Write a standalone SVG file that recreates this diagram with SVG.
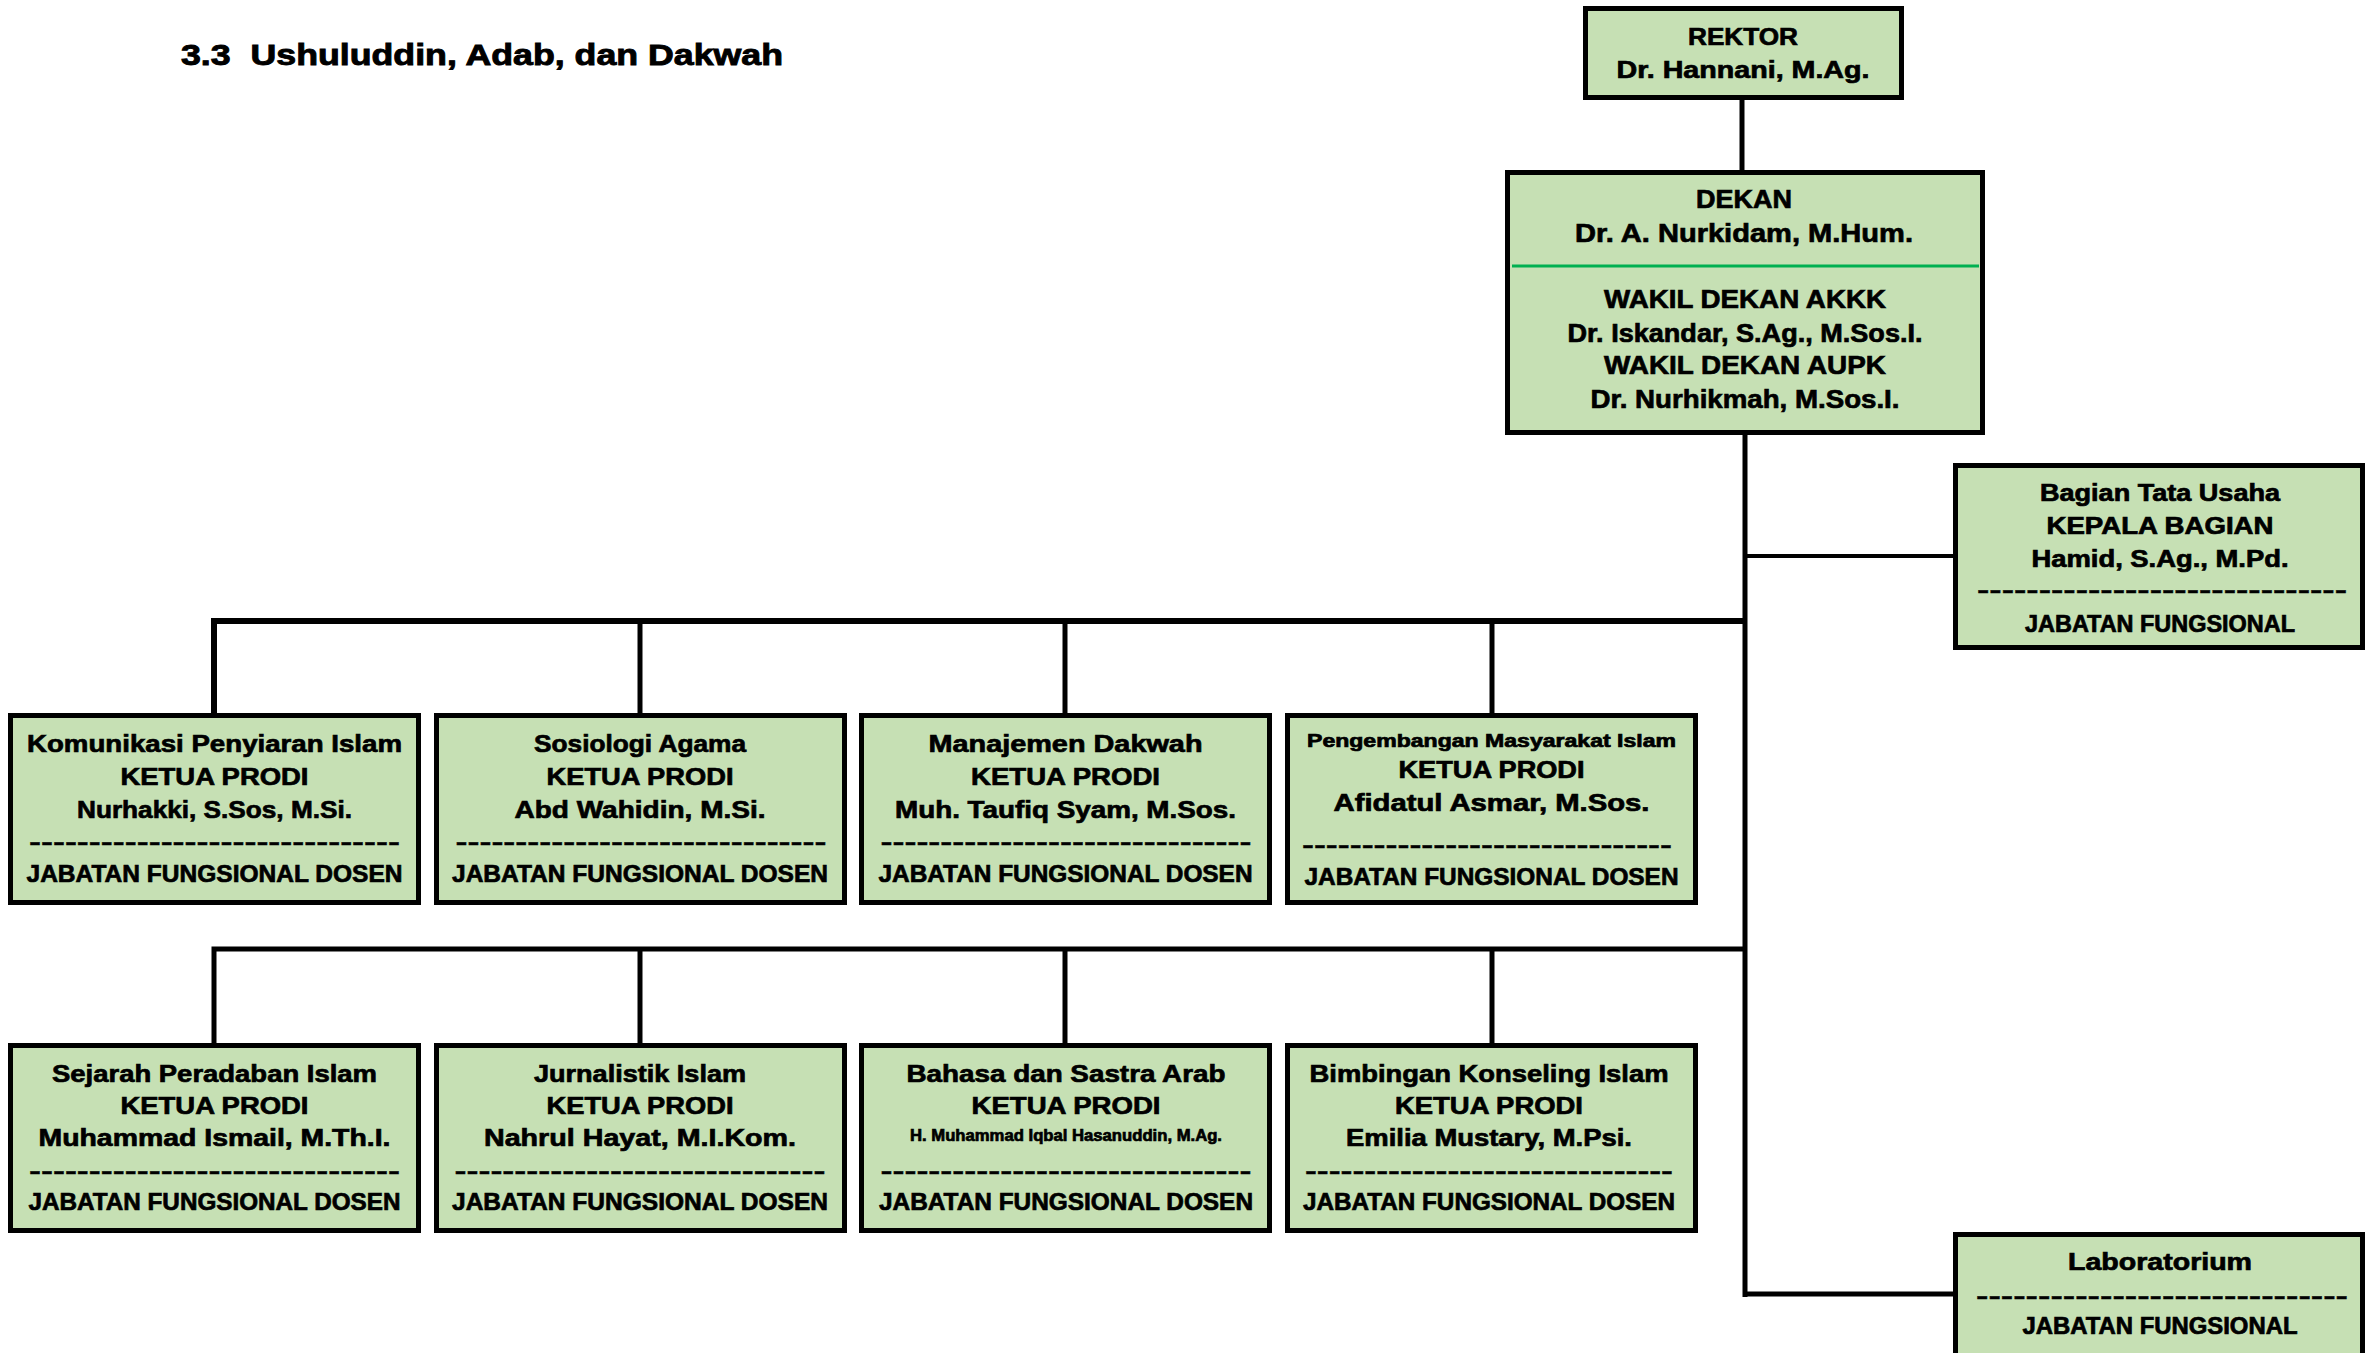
<svg xmlns="http://www.w3.org/2000/svg" width="2378" height="1353" viewBox="0 0 2378 1353">
<style>
.box{fill:#C6E0B4;stroke:#000;stroke-width:5}
.conn{fill:none;stroke:#000;stroke-width:5;stroke-linejoin:miter;stroke-linecap:butt}
text{font-family:'Liberation Sans',Arial,sans-serif;font-weight:700;fill:#000;text-anchor:middle;stroke:#000;stroke-width:0.7px}
.s24{font-size:24px}
.s23{font-size:23px}
.s26{font-size:26px}
.s18{font-size:18px}
.s16{font-size:16px}
.d{font-size:24px;stroke-width:0.3px}
</style>
<rect width="2378" height="1353" fill="#fff"/>
<text x="181" y="65" style="font-size:29px;text-anchor:start;stroke-width:0.9px" xml:space="preserve" textLength="602" lengthAdjust="spacingAndGlyphs">3.3  Ushuluddin, Adab, dan Dakwah</text>

<g id="connectors">
<line class="conn" x1="1742" y1="100" x2="1742" y2="171"/>
<line class="conn" x1="1745" y1="434" x2="1745" y2="1297"/>
<line class="conn" x1="1745" y1="556" x2="1954" y2="556" style="stroke-width:4"/>
<path class="conn" d="M214,714 V621 H1747" style="stroke-width:6"/>
<line class="conn" x1="640" y1="621" x2="640" y2="714"/>
<line class="conn" x1="1065" y1="621" x2="1065" y2="714"/>
<line class="conn" x1="1492" y1="621" x2="1492" y2="714"/>
<path class="conn" d="M214,1044 V949 H1747"/>
<line class="conn" x1="640" y1="949" x2="640" y2="1044"/>
<line class="conn" x1="1065" y1="949" x2="1065" y2="1044"/>
<line class="conn" x1="1492" y1="949" x2="1492" y2="1044"/>
<path class="conn" d="M1745,1294 H1954"/>
</g>

<g id="rektor">
<rect class="box" x="1585.5" y="8.5" width="316" height="89"/>
<text class="s24" x="1743" y="45" textLength="110" lengthAdjust="spacingAndGlyphs">REKTOR</text>
<text class="s24" x="1743" y="78" textLength="253" lengthAdjust="spacingAndGlyphs">Dr. Hannani, M.Ag.</text>
</g>

<g id="dekan">
<rect class="box" x="1507.5" y="172.5" width="475" height="260"/>
<line x1="1512" y1="266" x2="1979" y2="266" stroke="#00B050" stroke-width="3"/>
<text class="s26" x="1744" y="208" textLength="96" lengthAdjust="spacingAndGlyphs">DEKAN</text>
<text class="s26" x="1744" y="242" textLength="338" lengthAdjust="spacingAndGlyphs">Dr. A. Nurkidam, M.Hum.</text>
<text class="s26" x="1745" y="308" textLength="282" lengthAdjust="spacingAndGlyphs">WAKIL DEKAN AKKK</text>
<text class="s26" x="1745" y="342" textLength="355" lengthAdjust="spacingAndGlyphs">Dr. Iskandar, S.Ag., M.Sos.I.</text>
<text class="s26" x="1745" y="374" textLength="282" lengthAdjust="spacingAndGlyphs">WAKIL DEKAN AUPK</text>
<text class="s26" x="1745" y="408" textLength="309" lengthAdjust="spacingAndGlyphs">Dr. Nurhikmah, M.Sos.I.</text>
</g>

<g id="tata-usaha">
<rect class="box" x="1955.5" y="465.5" width="407" height="182"/>
<text class="s23" x="2160" y="501" textLength="240" lengthAdjust="spacingAndGlyphs">Bagian Tata Usaha</text>
<text class="s23" x="2160" y="534" textLength="227" lengthAdjust="spacingAndGlyphs">KEPALA BAGIAN</text>
<text class="s23" x="2160" y="567" textLength="257" lengthAdjust="spacingAndGlyphs">Hamid, S.Ag., M.Pd.</text>
<text class="d" x="2162" y="598" textLength="370" lengthAdjust="spacingAndGlyphs">------------------------------</text>
<text class="s23" x="2160" y="632" textLength="270" lengthAdjust="spacingAndGlyphs">JABATAN FUNGSIONAL</text>
</g>

<g id="kpi">
<rect class="box" x="10.5" y="715.5" width="408" height="187"/>
<text class="s24" x="214.5" y="752" textLength="375" lengthAdjust="spacingAndGlyphs">Komunikasi Penyiaran Islam</text>
<text class="s24" x="214.5" y="785" textLength="188" lengthAdjust="spacingAndGlyphs">KETUA PRODI</text>
<text class="s24" x="214.5" y="818" textLength="275" lengthAdjust="spacingAndGlyphs">Nurhakki, S.Sos, M.Si.</text>
<text class="d" x="214.5" y="850" textLength="371" lengthAdjust="spacingAndGlyphs">-------------------------------</text>
<text class="s24" x="214.5" y="882" textLength="376" lengthAdjust="spacingAndGlyphs">JABATAN FUNGSIONAL DOSEN</text>
</g>

<g id="sa">
<rect class="box" x="436.5" y="715.5" width="408" height="187"/>
<text class="s24" x="640" y="752" textLength="212" lengthAdjust="spacingAndGlyphs">Sosiologi Agama</text>
<text class="s24" x="640" y="785" textLength="187" lengthAdjust="spacingAndGlyphs">KETUA PRODI</text>
<text class="s24" x="640" y="818" textLength="251" lengthAdjust="spacingAndGlyphs">Abd Wahidin, M.Si.</text>
<text class="d" x="641" y="850" textLength="371" lengthAdjust="spacingAndGlyphs">-------------------------------</text>
<text class="s24" x="640" y="882" textLength="376" lengthAdjust="spacingAndGlyphs">JABATAN FUNGSIONAL DOSEN</text>
</g>

<g id="md">
<rect class="box" x="861.5" y="715.5" width="408" height="187"/>
<text class="s24" x="1065.5" y="752" textLength="274" lengthAdjust="spacingAndGlyphs">Manajemen Dakwah</text>
<text class="s24" x="1065.5" y="785" textLength="189" lengthAdjust="spacingAndGlyphs">KETUA PRODI</text>
<text class="s24" x="1065.5" y="818" textLength="341" lengthAdjust="spacingAndGlyphs">Muh. Taufiq Syam, M.Sos.</text>
<text class="d" x="1066" y="850" textLength="371" lengthAdjust="spacingAndGlyphs">-------------------------------</text>
<text class="s24" x="1065.5" y="882" textLength="374" lengthAdjust="spacingAndGlyphs">JABATAN FUNGSIONAL DOSEN</text>
</g>

<g id="pmi">
<rect class="box" x="1287.5" y="715.5" width="408" height="187"/>
<text class="s18" x="1491.5" y="747" textLength="369" lengthAdjust="spacingAndGlyphs">Pengembangan Masyarakat Islam</text>
<text class="s24" x="1491.5" y="778" textLength="186" lengthAdjust="spacingAndGlyphs">KETUA PRODI</text>
<text class="s24" x="1491.5" y="811" textLength="316" lengthAdjust="spacingAndGlyphs">Afidatul Asmar, M.Sos.</text>
<text class="d" x="1487" y="853" textLength="370" lengthAdjust="spacingAndGlyphs">-------------------------------</text>
<text class="s24" x="1491.5" y="885" textLength="374" lengthAdjust="spacingAndGlyphs">JABATAN FUNGSIONAL DOSEN</text>
</g>

<g id="spi">
<rect class="box" x="10.5" y="1045.5" width="408" height="185"/>
<text class="s24" x="214.5" y="1082" textLength="325" lengthAdjust="spacingAndGlyphs">Sejarah Peradaban Islam</text>
<text class="s24" x="214.5" y="1114" textLength="188" lengthAdjust="spacingAndGlyphs">KETUA PRODI</text>
<text class="s24" x="214.5" y="1146" textLength="352" lengthAdjust="spacingAndGlyphs">Muhammad Ismail, M.Th.I.</text>
<text class="d" x="214.5" y="1179" textLength="371" lengthAdjust="spacingAndGlyphs">-------------------------------</text>
<text class="s24" x="214.5" y="1210" textLength="372" lengthAdjust="spacingAndGlyphs">JABATAN FUNGSIONAL DOSEN</text>
</g>

<g id="ji">
<rect class="box" x="436.5" y="1045.5" width="408" height="185"/>
<text class="s24" x="640" y="1082" textLength="212" lengthAdjust="spacingAndGlyphs">Jurnalistik Islam</text>
<text class="s24" x="640" y="1114" textLength="187" lengthAdjust="spacingAndGlyphs">KETUA PRODI</text>
<text class="s24" x="640" y="1146" textLength="312" lengthAdjust="spacingAndGlyphs">Nahrul Hayat, M.I.Kom.</text>
<text class="d" x="640" y="1179" textLength="371" lengthAdjust="spacingAndGlyphs">-------------------------------</text>
<text class="s24" x="640" y="1210" textLength="376" lengthAdjust="spacingAndGlyphs">JABATAN FUNGSIONAL DOSEN</text>
</g>

<g id="bsa">
<rect class="box" x="861.5" y="1045.5" width="408" height="185"/>
<text class="s24" x="1066" y="1082" textLength="319" lengthAdjust="spacingAndGlyphs">Bahasa dan Sastra Arab</text>
<text class="s24" x="1066" y="1114" textLength="189" lengthAdjust="spacingAndGlyphs">KETUA PRODI</text>
<text class="s16" x="1066" y="1141" textLength="312" lengthAdjust="spacingAndGlyphs">H. Muhammad Iqbal Hasanuddin, M.Ag.</text>
<text class="d" x="1066" y="1179" textLength="371" lengthAdjust="spacingAndGlyphs">-------------------------------</text>
<text class="s24" x="1066" y="1210" textLength="374" lengthAdjust="spacingAndGlyphs">JABATAN FUNGSIONAL DOSEN</text>
</g>

<g id="bki">
<rect class="box" x="1287.5" y="1045.5" width="408" height="185"/>
<text class="s24" x="1489" y="1082" textLength="359" lengthAdjust="spacingAndGlyphs">Bimbingan Konseling Islam</text>
<text class="s24" x="1489" y="1114" textLength="188" lengthAdjust="spacingAndGlyphs">KETUA PRODI</text>
<text class="s24" x="1489" y="1146" textLength="286" lengthAdjust="spacingAndGlyphs">Emilia Mustary, M.Psi.</text>
<text class="d" x="1489" y="1179" textLength="368" lengthAdjust="spacingAndGlyphs">-------------------------------</text>
<text class="s24" x="1489" y="1210" textLength="372" lengthAdjust="spacingAndGlyphs">JABATAN FUNGSIONAL DOSEN</text>
</g>

<g id="laboratorium">
<rect class="box" x="1955.5" y="1234.5" width="407" height="130"/>
<text class="s23" x="2160" y="1270" textLength="184" lengthAdjust="spacingAndGlyphs">Laboratorium</text>
<text class="d" x="2162" y="1304" textLength="372" lengthAdjust="spacingAndGlyphs">------------------------------</text>
<text class="s23" x="2160" y="1334" textLength="275" lengthAdjust="spacingAndGlyphs">JABATAN FUNGSIONAL</text>
</g>
</svg>
